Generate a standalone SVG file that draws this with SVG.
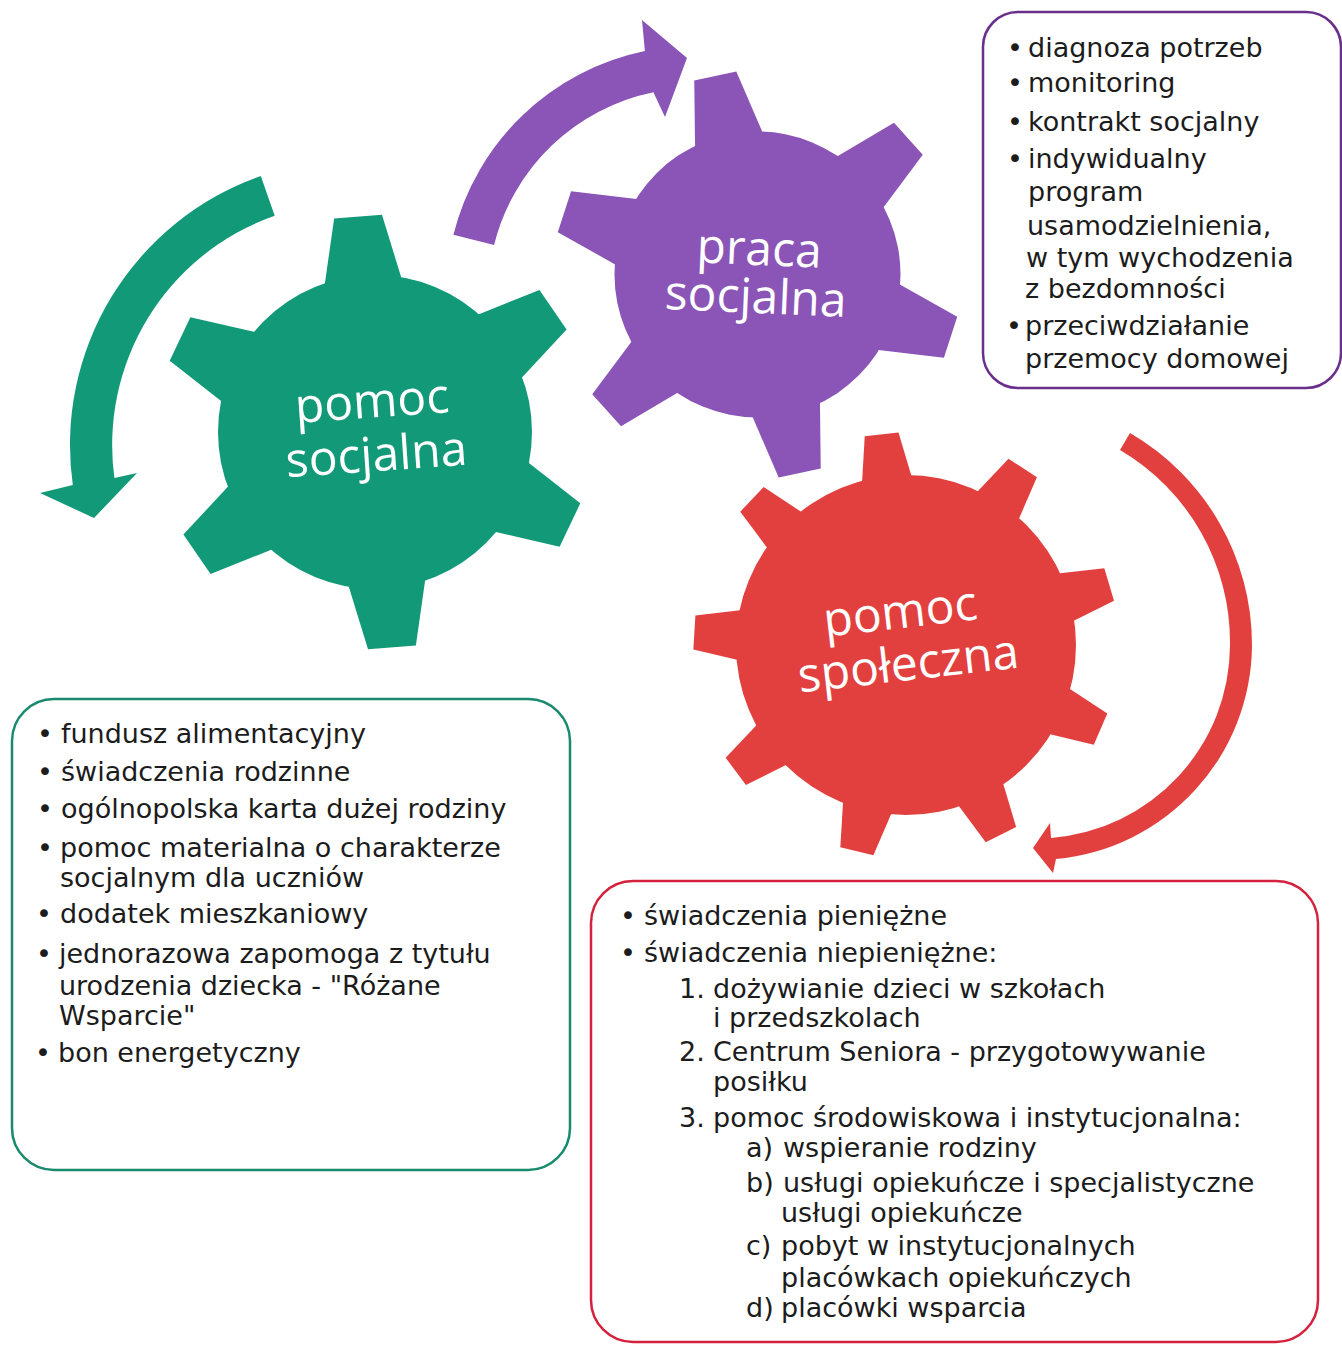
<svg xmlns="http://www.w3.org/2000/svg" width="1342" height="1345" viewBox="0 0 1342 1345">
<style>
.t{font-family:"DejaVu Sans",sans-serif;font-size:27px;fill:#1c1c1c}
.b{font-family:"DejaVu Sans",sans-serif;font-size:27px;fill:#1c1c1c;text-anchor:middle}
.lbl{font-family:"Open Sans",sans-serif;font-size:48px;fill:#ffffff;text-anchor:middle}
.green{fill:#129a78}
.purple{fill:#8a55b6}
.red{fill:#e2403f}
.box{fill:#ffffff;stroke-width:2.5}
</style>
<defs>
<polygon id="toothG" points="-24,-216 24,-216 41,-140 -41,-140"/>
<polygon id="toothP" points="-21.5,-203 21.5,-203 36.5,-128 -36.5,-128"/>
<polygon id="toothR" points="-17,-212 17,-212 27,-155 -27,-155"/>
</defs>
<rect width="1342" height="1345" fill="#ffffff"/>

<g id="connectors">
<path class="green" d="M 260.8,176 A 285 285 0 0 0 72.8,485 L 40,493 L 94,518 L 137,473 L 114.4,478 A 243 243 0 0 1 274.7,215.7 Z"/>
<path class="purple" d="M 453.4,234.8 A 249 249 0 0 1 644.9,51.1 L 642,20 L 687,58 L 665,117 L 653.4,92.2 A 207 207 0 0 0 494.1,244.9 Z"/>
<path class="red" d="M 1130,433 A 245 245 0 0 1 1252,645 A 216 216 0 0 1 1056,859 L 1053,873 L 1033,848 L 1050,823 L 1051,838 A 194 194 0 0 0 1230,645 A 223 223 0 0 0 1120,450 Z"/>
</g>

<g id="gear-pomoc-socjalna" class="green" transform="translate(375,432)">
<circle r="157"/>
<use href="#toothG" transform="rotate(-4.5)"/>
<use href="#toothG" transform="rotate(55.5)"/>
<use href="#toothG" transform="rotate(115.5)"/>
<use href="#toothG" transform="rotate(175.5)"/>
<use href="#toothG" transform="rotate(235.5)"/>
<use href="#toothG" transform="rotate(295.5)"/>
<text class="lbl" transform="translate(-2,-14.5) rotate(-4)">pomoc</text>
<text class="lbl" transform="translate(2.5,39) rotate(-4)">socjalna</text>
</g>

<g id="gear-praca-socjalna" class="purple" transform="translate(757.5,274.5)">
<circle r="143"/>
<use href="#toothP" transform="rotate(-12)"/>
<use href="#toothP" transform="rotate(48)"/>
<use href="#toothP" transform="rotate(108)"/>
<use href="#toothP" transform="rotate(168)"/>
<use href="#toothP" transform="rotate(228)"/>
<use href="#toothP" transform="rotate(288)"/>
<text class="lbl" transform="translate(1,-9.5) rotate(2.5)">praca</text>
<text class="lbl" transform="translate(-2.5,38.5) rotate(2.5)">socjalna</text>
</g>

<g id="gear-pomoc-spoleczna" class="red" transform="translate(906,645)">
<circle r="170"/>
<use href="#toothR" transform="rotate(-6.6)"/>
<use href="#toothR" transform="rotate(33.4)"/>
<use href="#toothR" transform="rotate(73.4)"/>
<use href="#toothR" transform="rotate(113.4)"/>
<use href="#toothR" transform="rotate(153.4)"/>
<use href="#toothR" transform="rotate(193.4)"/>
<use href="#toothR" transform="rotate(233.4)"/>
<use href="#toothR" transform="rotate(273.4)"/>
<use href="#toothR" transform="rotate(313.4)"/>
<text class="lbl" transform="translate(-4,-17) rotate(-6.5)">pomoc</text>
<text class="lbl" transform="translate(4,35) rotate(-6.5)">społeczna</text>
</g>

<g id="box-praca-socjalna">
<rect class="box" x="983" y="12" width="358" height="376" rx="35" stroke="#6a2e8c"/>
<text class="b" x="1015" y="57">•</text><text class="t" x="1028" y="57">diagnoza potrzeb</text>
<text class="b" x="1015" y="92">•</text><text class="t" x="1028" y="92">monitoring</text>
<text class="b" x="1015" y="131">•</text><text class="t" x="1028" y="131">kontrakt socjalny</text>
<text class="b" x="1015" y="168">•</text><text class="t" x="1028" y="168">indywidualny</text>
<text class="t" x="1028" y="201">program</text>
<text class="t" x="1027" y="235">usamodzielnienia,</text>
<text class="t" x="1026" y="267">w tym wychodzenia</text>
<text class="t" x="1025" y="298">z bezdomności</text>
<text class="b" x="1014" y="335">•</text><text class="t" x="1025" y="335">przeciwdziałanie</text>
<text class="t" x="1025" y="368">przemocy domowej</text>
</g>

<g id="box-pomoc-socjalna">
<rect class="box" x="12" y="699" width="558" height="471" rx="42" stroke="#1a8a6e"/>
<text class="b" x="45" y="743">•</text><text class="t" x="61" y="743">fundusz alimentacyjny</text>
<text class="b" x="45" y="781">•</text><text class="t" x="61" y="781">świadczenia rodzinne</text>
<text class="b" x="45" y="818">•</text><text class="t" x="61" y="818">ogólnopolska karta dużej rodziny</text>
<text class="b" x="45" y="857">•</text><text class="t" x="60" y="857">pomoc materialna o charakterze</text>
<text class="t" x="60" y="887">socjalnym dla uczniów</text>
<text class="b" x="44" y="923">•</text><text class="t" x="60" y="923">dodatek mieszkaniowy</text>
<text class="b" x="44" y="963">•</text><text class="t" x="59" y="963">jednorazowa zapomoga z tytułu</text>
<text class="t" x="59" y="995">urodzenia dziecka - "Różane</text>
<text class="t" x="59" y="1025">Wsparcie"</text>
<text class="b" x="43" y="1062">•</text><text class="t" x="58" y="1062">bon energetyczny</text>
</g>

<g id="box-pomoc-spoleczna">
<rect class="box" x="591" y="881" width="727" height="461" rx="42" stroke="#d4213d"/>
<text class="b" x="628" y="925">•</text><text class="t" x="644" y="925">świadczenia pieniężne</text>
<text class="b" x="628" y="962">•</text><text class="t" x="644" y="962">świadczenia niepieniężne:</text>
<text class="t" x="679" y="998">1.</text><text class="t" x="713" y="998">dożywianie dzieci w szkołach</text>
<text class="t" x="713" y="1027">i przedszkolach</text>
<text class="t" x="679" y="1061">2.</text><text class="t" x="713" y="1061">Centrum Seniora - przygotowywanie</text>
<text class="t" x="713" y="1091">posiłku</text>
<text class="t" x="679" y="1127">3.</text><text class="t" x="713" y="1127">pomoc środowiskowa i instytucjonalna:</text>
<text class="t" x="746" y="1157">a)</text><text class="t" x="783" y="1157">wspieranie rodziny</text>
<text class="t" x="746" y="1192">b)</text><text class="t" x="783" y="1192">usługi opiekuńcze i specjalistyczne</text>
<text class="t" x="781" y="1222">usługi opiekuńcze</text>
<text class="t" x="746" y="1255">c)</text><text class="t" x="781" y="1255">pobyt w instytucjonalnych</text>
<text class="t" x="781" y="1287">placówkach opiekuńczych</text>
<text class="t" x="746" y="1317">d)</text><text class="t" x="781" y="1317">placówki wsparcia</text>
</g>
</svg>
